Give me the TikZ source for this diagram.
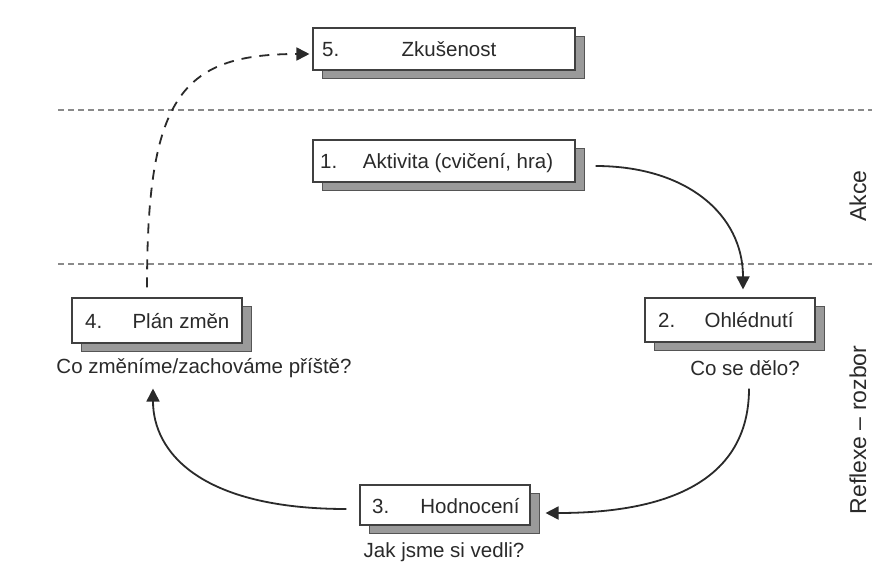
\documentclass[tikz,border=0pt]{standalone}
\usepackage{fontspec}
\setmainfont{Liberation Sans}
\usetikzlibrary{arrows.meta,shadows}
\definecolor{ink}{HTML}{2A2A2A}
\definecolor{frame}{HTML}{404040}
\definecolor{shade}{HTML}{9A9A9A}
\definecolor{shadeline}{HTML}{555555}
\definecolor{guide}{HTML}{8A8A8A}
\tikzset{
  stagebox/.style={draw=frame, line width=1.1pt, fill=white, inner sep=0pt,
    general shadow={fill=shade, draw=shadeline, line width=0.8pt, shadow xshift=9pt, shadow yshift=-8pt}},
  lbl/.style={inner sep=0pt, anchor=base, text=ink, font=\fontsize{20.5}{24}\selectfont},
  numlbl/.style={lbl, anchor=base west},
  sidelbl/.style={inner sep=0pt, anchor=base, rotate=90, text=ink, font=\fontsize{23}{27}\selectfont},
  flow/.style={draw=ink, line width=1.8pt, -{Triangle[length=13pt,width=13pt]}},
  dflow/.style={flow, dash pattern=on 10pt off 8pt},
  guideline/.style={draw=guide, line width=1.1pt, dash pattern=on 6pt off 4pt}
}
\begin{document}
\begin{tikzpicture}[x=1pt,y=-1pt]
\path[use as bounding box, fill=white] (0,0) rectangle (872,572);

% guide lines
\coordinate (g1a) at (58,110); \coordinate (g1b) at (872,110);
\coordinate (g2a) at (58,264); \coordinate (g2b) at (872,264);
\draw[guideline] (g1a) -- (g1b);
\draw[guideline] (g2a) -- (g2b);

% boxes
\node[stagebox, minimum width=262pt, minimum height=42pt] (b5) at (444,49) {};
\node[stagebox, minimum width=262pt, minimum height=42pt] (b1) at (444,161) {};
\node[stagebox, minimum width=170pt, minimum height=44pt] (b2) at (730,320) {};
\node[stagebox, minimum width=170pt, minimum height=45pt] (b4) at (157,320.5) {};
\node[stagebox, minimum width=170pt, minimum height=40pt] (b3) at (445,505) {};

% box texts
\node[numlbl] (n5) at (322,57) {5.};
\node[lbl] (t5) at (449,57) {Zkušenost};
\node[numlbl] (n1) at (320,169) {1.};
\node[lbl] (t1) at (458,169) {Aktivita (cvičení, hra)};
\node[numlbl] (n2) at (658,327.5) {2.};
\node[lbl] (t2) at (749,327.5) {Ohlédnutí};
\node[numlbl] (n4) at (85,328) {4.};
\node[lbl] (t4) at (181,328) {Plán změn};
\node[numlbl] (n3) at (372,513) {3.};
\node[lbl] (t3) at (470,513) {Hodnocení};

% sub labels
\node[lbl] (s2) at (745,375) {Co se dělo?};
\node[lbl] (s4) at (204,373) {Co změníme/zachováme příště?};
\node[lbl] (s3) at (444,557) {Jak jsme si vedli?};

% side labels
\node[sidelbl] (akce) at (866,196) {Akce};
\node[sidelbl] (refl) at (866,430) {Reflexe – rozbor};

% connectors
\draw[flow] ([xshift=20pt,yshift=-5pt]b1.east) .. controls +(91,0) and +(0,-75) .. ([xshift=13pt,yshift=8pt]b2.north);
\draw[flow] ([xshift=19pt,yshift=-46pt]b2.south) .. controls +(0,73) and +(152,0) .. ([xshift=15pt,yshift=-8pt]b3.east);
\draw[flow] ([xshift=-13pt,yshift=-4pt]b3.west) .. controls +(-147,0) and +(0,63) .. ([xshift=-4pt,yshift=-45pt]b4.south);
\draw[dflow] ([xshift=-10pt,yshift=10pt]b4.north) .. controls +(0,-188) and +(-130,0) .. ([xshift=-3pt,yshift=-5pt]b5.west);
\end{tikzpicture}
\end{document}
